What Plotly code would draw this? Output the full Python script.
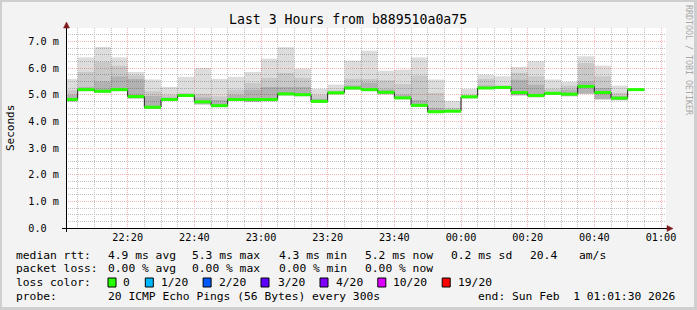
import plotly.graph_objects as go
import pandas as pd

# ---------------- data ----------------
bin_start = pd.date_range("2026-01-31 22:00:00", periods=35, freq="5min")

median_ms = [4.82, 5.19, 5.13, 5.19, 4.93, 4.53, 4.82, 4.97, 4.73, 4.59, 4.82, 4.82, 4.82, 5.03, 5.00,
             4.75, 5.07, 5.25, 5.19, 5.09, 4.88, 4.60, 4.36, 4.38, 4.92, 5.25, 5.27, 5.08, 4.97, 5.05,
             5.02, 5.31, 5.08, 4.87, 5.19]
smoke_max = [5.59, 6.40, 6.79, 6.40, 5.85, 5.57, 5.29, 5.67, 6.00, 5.59, 5.67, 5.85, 6.35, 6.78, 5.98,
             5.22, 5.38, 6.28, 6.65, 5.90, 5.94, 6.40, 5.57, 4.76, 5.22, 5.75, 5.69, 6.04, 6.25, 5.57,
             5.48, 6.44, 6.09, 5.34, 5.24]
smoke_hi2 = [5.17, 5.85, 6.23, 6.09, 5.73, 5.13, 5.00, 5.07, 5.03, 4.94, 5.19, 5.44, 5.63, 5.82, 5.63,
             5.00, 5.17, 5.60, 5.59, 5.54, 5.40, 5.72, 5.07, 4.51, 5.00, 5.59, 5.35, 5.82, 5.69, 5.22,
             5.34, 6.19, 5.69, 5.07, 5.22]
smoke_hi3 = [5.00, 5.29, 5.50, 5.69, 5.59, 4.95, 4.90, 5.00, 4.90, 4.80, 5.00, 5.19, 5.29, 5.29, 5.29,
             4.85, 5.10, 5.35, 5.45, 5.20, 5.00, 4.80, 4.50, 4.42, 4.95, 5.35, 5.30, 5.57, 5.38, 5.10,
             5.19, 5.50, 5.25, 4.95, 5.20]
smoke_min = [4.74, 5.13, 5.07, 5.13, 4.85, 4.47, 4.77, 4.92, 4.63, 4.53, 4.77, 4.73, 4.75, 4.97, 4.94,
             4.69, 5.01, 5.19, 5.13, 5.01, 4.83, 4.54, 4.32, 4.34, 4.86, 5.21, 5.21, 4.97, 4.90, 4.99,
             4.94, 5.03, 4.82, 4.79, 5.15]

y_tick_vals = [0, 1, 2, 3, 4, 5, 6, 7]
y_tick_text = ["0.0\u00a0\u00a0", "1.0 m", "2.0 m", "3.0 m", "4.0 m", "5.0 m", "6.0 m", "7.0 m"]

title_text = "Last 3 Hours from b889510a0a75"
legend_rows = [
    [("median rtt:", 16.4), ("4.9 ms avg", 107.6), ("5.3 ms max", 192.4), ("4.3 ms min", 279.1),
     ("5.2 ms now", 364.9), ("0.2 ms sd", 451.1), ("20.4", 530.2), ("am/s", 579.1)],
    [("packet loss:", 16.4), ("0.00 % avg", 107.6), ("0.00 % max", 192.4), ("0.00 % min", 279.1),
     ("0.00 % now", 364.9)],
    [("loss color:", 16.4)],
    [("probe:", 16.4), ("20 ICMP Echo Pings (56 Bytes) every 300s", 107.6),
     ("end: Sun Feb  1 01:01:30 2026", 477.8)],
]
legend_row_y = [255, 268.5, 282.5, 296]
loss_labels = ["0", "1/20", "2/20", "3/20", "4/20", "10/20", "19/20"]
loss_colors = ["#26ff00", "#00b8ff", "#0059ff", "#5e00ff", "#7e00ff", "#dd00ff", "#ff0000"]
loss_box_x = [108.0, 145.3, 203.1, 261.0, 320.0, 377.8, 442.2]
loss_label_x = [123.1, 160.9, 218.7, 277.8, 335.6, 393.3, 457.8]

# ---------------- geometry ----------------
W, H = 697, 310
L, R, T, B = 66, 31, 28, 82
PW = W - L - R
PH = H - T - B
MONO = "DejaVu Sans Mono"


def px(x):
    return (x - L) / PW


def py(y):
    return (T + PH - y) / PH


step = pd.Timedelta(minutes=5)
centers = [s + step / 2 for s in bin_start]
bar_w = 300000

fig = go.Figure()

# smoke layers (non-overlapping, translucent so grid shows through)
layers = [
    (smoke_min, smoke_hi3, "rgba(0,0,0,0.30)"),
    (smoke_hi3, smoke_hi2, "rgba(0,0,0,0.21)"),
    (smoke_hi2, smoke_max, "rgba(0,0,0,0.135)"),
]
for lo, hi, col in layers:
    fig.add_trace(go.Bar(
        x=centers, base=lo, y=[h - l for l, h in zip(lo, hi)], width=bar_w,
        marker=dict(color=col, line=dict(width=0)), hoverinfo="skip", showlegend=False))

# black step line of median
sx = list(bin_start) + [bin_start[-1] + step]
sy = list(median_ms) + [median_ms[-1]]
fig.add_trace(go.Scatter(x=sx, y=sy, mode="lines", line=dict(color="#202020", width=1, shape="hv"),
                         hoverinfo="skip", showlegend=False))

# green median segments
gx, gy = [], []
for s, m in zip(bin_start, median_ms):
    gx += [s, s + step, None]
    gy += [m, m, None]
fig.add_trace(go.Scatter(x=gx, y=gy, mode="lines", line=dict(color="#26ff00", width=3),
                         hoverinfo="skip", showlegend=False))

minor_grid = "#c2c2c2"
major_grid = "#f6b4b4"

fig.update_layout(
    width=W, height=H, autosize=False,
    margin=dict(l=L, r=R, t=T, b=B, pad=0),
    paper_bgcolor="#f3f3f3", plot_bgcolor="#ffffff",
    barmode="overlay", showlegend=False,
    font=dict(family=MONO, size=10.2, color="#000000"),
    xaxis=dict(
        type="date", range=["2026-01-31 22:01:30", "2026-02-01 01:01:30"],
        tick0="2026-01-31 22:00:00", dtick=1200000, tickformat="%H:%M",
        showgrid=True, gridcolor=major_grid, griddash="1px,1px", gridwidth=1,
        minor=dict(dtick=300000, tick0="2026-01-31 22:00:00", showgrid=True,
                   gridcolor=minor_grid, griddash="1px,1px", gridwidth=1),
        showline=False, zeroline=False, ticks="", ticklabelstandoff=2,
        tickfont=dict(family=MONO, size=10.2, color="#000000"),
        fixedrange=True,
    ),
    yaxis=dict(
        range=[0, 7.5], tickvals=y_tick_vals, ticktext=y_tick_text,
        showgrid=True, gridcolor=major_grid, griddash="1px,1px", gridwidth=1,
        minor=dict(dtick=0.25, tick0=0, showgrid=True, gridcolor=minor_grid,
                   griddash="1px,1px", gridwidth=1),
        showline=False, zeroline=False, ticks="", ticklabelstandoff=6,
        tickfont=dict(family=MONO, size=10.2, color="#000000"),
        fixedrange=True,
    ),
)

shapes = []
# frame
for (x0, y0, x1, y1) in [(0, 0, 697, 2), (0, 0, 2, 310), (0, 307, 697, 310), (694, 0, 697, 310)]:
    shapes.append(dict(type="rect", xref="paper", yref="paper", x0=px(x0), x1=px(x1), y0=py(y0), y1=py(y1),
                       fillcolor="#cfcfcf", line=dict(width=0), layer="above"))
# axis lines
shapes.append(dict(type="line", xref="paper", yref="paper", x0=px(62), x1=px(668), y0=py(228.5), y1=py(228.5),
                   line=dict(color="#000000", width=1), layer="above"))
shapes.append(dict(type="line", xref="paper", yref="paper", x0=px(66.5), x1=px(66.5), y0=py(232), y1=py(25),
                   line=dict(color="#000000", width=1), layer="above"))
# arrows
ax_col = "#7f1a1a"
shapes.append(dict(type="path", xref="paper", yref="paper",
                   path=f"M {px(667)} {py(225.5)} L {px(673)} {py(228.5)} L {px(667)} {py(231.5)} Z",
                   fillcolor=ax_col, line=dict(color=ax_col, width=0.5), layer="above"))
shapes.append(dict(type="path", xref="paper", yref="paper",
                   path=f"M {px(63.5)} {py(28)} L {px(66.5)} {py(22)} L {px(69.5)} {py(28)} Z",
                   fillcolor=ax_col, line=dict(color=ax_col, width=0.5), layer="above"))
# loss color boxes
for bx, col in zip(loss_box_x, loss_colors):
    shapes.append(dict(type="rect", xref="paper", yref="paper", x0=px(bx), x1=px(bx + 8), y0=py(278), y1=py(287),
                       fillcolor=col, line=dict(color="#000000", width=1), layer="above"))
fig.update_layout(shapes=shapes)

ann = []
ann.append(dict(text=title_text, x=px(347.5), y=py(19), xref="paper", yref="paper", showarrow=False,
                xanchor="center", yanchor="middle", font=dict(family=MONO, size=13.2, color="#000000")))
ann.append(dict(text="Seconds", x=px(10), y=py(128), xref="paper", yref="paper", showarrow=False,
                textangle=-90, xanchor="center", yanchor="middle", font=dict(family=MONO, size=11, color="#000000")))
ann.append(dict(text="RRDTOOL / TOBI OETIKER", x=px(689), y=py(60), xref="paper", yref="paper", showarrow=False,
                textangle=90, xanchor="center", yanchor="middle", font=dict(family=MONO, size=8.3, color="#a8a8a8")))
for row, yy in zip(legend_rows, legend_row_y):
    for txt, xx in row:
        ann.append(dict(text=txt.replace(" ", "\u00a0"), x=px(xx - 1), y=py(yy), xref="paper", yref="paper",
                        showarrow=False, xanchor="left", yanchor="middle", borderpad=0,
                        font=dict(family=MONO, size=11.3, color="#000000")))
for lbl, xx in zip(loss_labels, loss_label_x):
    ann.append(dict(text=lbl, x=px(xx - 1), y=py(legend_row_y[2]), xref="paper", yref="paper",
                    showarrow=False, xanchor="left", yanchor="middle", borderpad=0,
                    font=dict(family=MONO, size=11.3, color="#000000")))
fig.update_layout(annotations=ann)

fig.write_html("out.html")
